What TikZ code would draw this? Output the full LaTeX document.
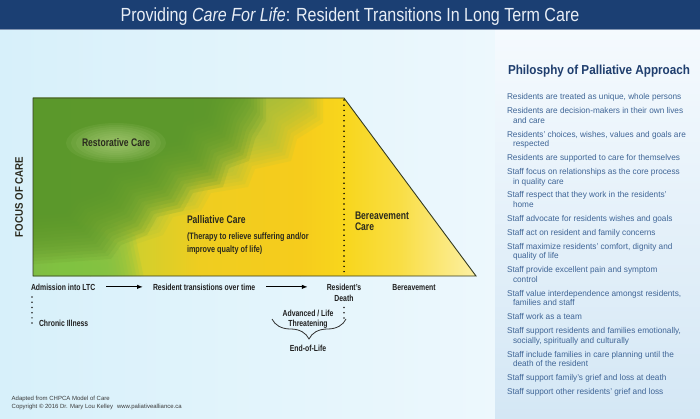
\documentclass[tikz,border=0pt]{standalone}
\usepackage{fontspec}
\setmainfont{Liberation Sans}
\usetikzlibrary{arrows.meta,decorations.pathreplacing}
\newfontfamily\titlefont[FakeStretch=0.845]{Liberation Sans}
\newfontfamily\condfont[FakeStretch=0.78]{Liberation Sans}
\newfontfamily\focusfont[FakeStretch=0.88]{Liberation Sans}
\newfontfamily\headfont[FakeStretch=0.9]{Liberation Sans}
\newfontfamily\listfont[FakeStretch=0.98]{Liberation Sans}
\definecolor{barblue}{HTML}{1B3F73}
\definecolor{titlewhite}{HTML}{E8EEF6}
\definecolor{bgleft}{HTML}{D7F0FA}
\definecolor{bgright}{HTML}{EDF8FD}
\definecolor{paneltop}{HTML}{F5FAFE}
\definecolor{panelbot}{HTML}{D4E7F5}
\definecolor{headblue}{HTML}{1F3E6E}
\definecolor{listblue}{HTML}{3F6596}
\definecolor{labdark}{HTML}{2A2A1E}
\definecolor{outlinec}{HTML}{343B22}
\definecolor{dkgreen}{HTML}{5A982B}
\definecolor{olive}{HTML}{9CBE42}
\definecolor{ltgreen}{HTML}{80C247}
\definecolor{glowgreen}{HTML}{B8D584}
\definecolor{ca}{HTML}{7CBD44}
\definecolor{cb}{HTML}{A6C73B}
\definecolor{cc}{HTML}{D3CF2C}
\definecolor{cd}{HTML}{EFCD20}
\definecolor{ce}{HTML}{F6CC1C}
\definecolor{cf}{HTML}{F8D61C}
\definecolor{cg}{HTML}{F9DE45}
\definecolor{ch}{HTML}{FCF0A5}
\definecolor{footgray}{HTML}{3A3A3A}
\begin{document}
\begin{tikzpicture}[x=1pt,y=-1pt,
  every node/.style={inner sep=0pt, outer sep=0pt},
  clab/.style={font={\condfont\bfseries\fontsize{11}{11.4}\selectfont}, text=labdark, align=left},
  csmall/.style={font={\condfont\bfseries\fontsize{9.3}{12.6}\selectfont}, text=labdark, align=left},
  blab/.style={font={\condfont\bfseries\fontsize{8.8}{10.5}\selectfont}, text=black!88},
  flow/.style={line width=1.2pt, -{Latex[length=6pt,width=4.6pt]}},
  dotline/.style={line width=1.7pt, dash pattern=on 0pt off 5.2pt, line cap=round},
  bracec/.style={line width=0.8pt, black!80, decorate, decoration={brace, amplitude=20pt, mirror}},
]
\useasboundingbox (0,0) rectangle (700,419);
% background
\shade[left color=bgleft, right color=bgright] (0,29) rectangle (496,419);
\shade[top color=paneltop, bottom color=panelbot] (495,29) rectangle (700,419);
\fill[barblue] (0,0) rectangle (700,29.5);
\draw[line width=0.6pt, barblue!55!white] (0,29.8) -- (700,29.8);
\node[anchor=base, font={\titlefont\fontsize{19}{22}\selectfont}, text=titlewhite] (title) at (350,22)
  {Providing \textit{Care For Life}: Resident Transitions In Long Term Care};

% chart fill
\coordinate (tl) at (33,98);
\coordinate (tr) at (344,98);
\coordinate (br) at (476,276);
\coordinate (bl) at (33,276);
\begin{scope}
\clip (tl) -- (tr) -- (br) -- (bl) -- cycle;
\shade[left color=ca, right color=cb] (32,97) rectangle (90.6,277);
\shade[left color=cb, right color=cc] (90,97) rectangle (140.6,277);
\shade[left color=cc, right color=cd] (140,97) rectangle (200.6,277);
\shade[left color=cd, right color=ce] (200,97) rectangle (300.6,277);
\shade[left color=ce, right color=cf] (300,97) rectangle (344.6,277);
\shade[left color=cf, right color=cg] (344,97) rectangle (400.6,277);
\shade[left color=cg, right color=ch] (400,97) rectangle (477,277);
% light green bottom-left
\foreach \k in {0,...,11} {
  \fill[ltgreen, opacity=0.16, shift={(3*\k-16,-3*\k+16)}]
    (0,236) -- (95,240) -- (118,252) -- (128,300) -- (0,300) -- cycle;
}
% olive transition zone (soft edge)
\foreach \k in {0,...,15} {
  \fill[olive, opacity=0.12, shift={(3*\k-24,3*\k-24)}]
    (0,60) -- (302,60) -- (302,102) -- (276,118) -- (270,140) -- (234,148) -- (227,166)
    -- (190,172) -- (180,190) -- (152,196) -- (142,214) -- (112,224) -- (102,238) -- (0,244) -- cycle;
}
% dark green staircase region (soft edge)
\foreach \k in {0,...,15} {
  \fill[dkgreen, opacity=0.15, shift={(3*\k-24,3*\k-24)}]
    (0,60) -- (245,60) -- (245,100) -- (234,118) -- (228,140) -- (208,147) -- (202,166)
    -- (172,172) -- (162,190) -- (136,196) -- (126,214) -- (100,224) -- (90,238) -- (0,244) -- cycle;
}
% glow behind Restorative Care
\foreach \r in {1.0,0.9,0.8,0.7,0.6,0.5,0.4,0.3} {
  \fill[glowgreen, opacity=0.1] (116,143) ellipse ({50*\r} and {20*\r});
}
\end{scope}
\draw[outlinec, line width=0.9pt, line join=miter] (tl) -- (tr) -- (br) -- (bl) -- cycle;
\draw[dotline, black] (344,100) -- (344,276);

% chart labels
\node[clab, anchor=base west] (rest) at (82,146.7) {Restorative Care};
\node[clab, anchor=base west] (pall) at (187,223.3) {Palliative Care};
\node[csmall, anchor=base west] (ther) at (187,252.3) {(Therapy to relieve suffering and/or\\improve qualty of life)};
\node[clab, anchor=base west] (berc) at (355,230.7) {Bereavement\\Care};
\node[font={\focusfont\bfseries\fontsize{11}{12}\selectfont}, text=labdark, rotate=90] (focus) at (19,197) {FOCUS OF CARE};

% bottom labels
\node[blab, anchor=base west] (adm) at (31,290) {Admission into LTC};
\node[blab, anchor=base west] (rto) at (153,290) {Resident transistions over time};
\node[blab, anchor=base, align=center] (death) at (344,301) {Resident’s\\Death};
\node[blab, anchor=base] (berv) at (414,290) {Bereavement};
\node[blab, anchor=base west] (chron) at (39,326) {Chronic Illness};
\node[blab, anchor=base, align=center, font={\condfont\bfseries\fontsize{8.8}{10}\selectfont}] (adv) at (308,326.7) {Advanced / Life\\Threatening};
\node[blab, anchor=base] (eol) at (308,351.7) {End-of-Life};

\draw[flow, shorten <=11pt, shorten >=10pt] (adm.east) -- (rto.west);
\draw[flow, shorten <=11pt, shorten >=19pt] (rto.east) -- (rto.east -| death.west);
\coordinate (chdot) at (32,323.5);
\draw[dotline, black!85] (adm.south west) ++(1,7) -- (chdot);
\draw[dotline, black!85] (death.south) ++(0,6.5) -- ++(0,10.5);
\coordinate (bracel) at (272,319);
\coordinate (bracer) at (346,319);
\draw[bracec] (bracel) -- (bracer);

% right panel
\node[anchor=base west, font={\headfont\bfseries\fontsize{13}{15}\selectfont}, text=headblue] (phead) at (508,74.3) {Philosphy of Palliative Approach};
\node[anchor=base west, align=left, font={\listfont\fontsize{8.4}{9.6}\selectfont}, text=listblue] (plist) at (507,394.5) {%
Residents are treated as unique, whole persons\\[4.3pt]
Residents are decision-makers in their own lives\\
\hspace*{6pt}and care\\[4.3pt]
Residents’ choices, wishes, values and goals are\\
\hspace*{6pt}respected\\[4.3pt]
Residents are supported to care for themselves\\[4.3pt]
Staff focus on relationships as the core process\\
\hspace*{6pt}in quality care\\[4.3pt]
Staff respect that they work in the residents’\\
\hspace*{6pt}home\\[4.3pt]
Staff advocate for residents wishes and goals\\[4.3pt]
Staff act on resident and family concerns\\[4.3pt]
Staff maximize residents’ comfort, dignity and\\
\hspace*{6pt}quality of life\\[4.3pt]
Staff provide excellent pain and symptom\\
\hspace*{6pt}control\\[4.3pt]
Staff value interdependence amongst residents,\\
\hspace*{6pt}families and staff\\[4.3pt]
Staff work as a team\\[4.3pt]
Staff support residents and families emotionally,\\
\hspace*{6pt}socially, spiritually and culturally\\[4.3pt]
Staff include families in care planning until the\\
\hspace*{6pt}death of the resident\\[4.3pt]
Staff support family’s grief and loss at death\\[4.3pt]
Staff support other residents’ grief and loss};

% footer
\node[anchor=base west, align=left, font={\fontsize{6}{8}\selectfont}, text=footgray] (foot) at (11.7,408)
  {Adapted from CHPCA Model of Care\\Copyright © 2016 Dr. Mary Lou Kelley\hspace{4pt}www.paliativealliance.ca};
\end{tikzpicture}
\end{document}
